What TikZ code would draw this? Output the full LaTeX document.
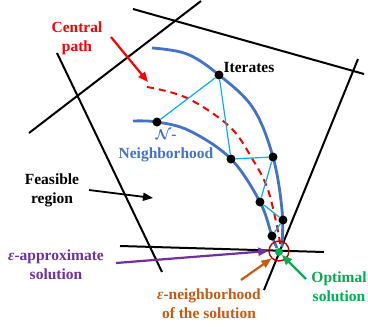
\documentclass[tikz,border=0pt]{standalone}
\usepackage{bm}
\usepackage{fontspec}
\setmainfont{Liberation Serif}
\usetikzlibrary{arrows.meta}
\definecolor{nblue}{HTML}{4472C4}
\definecolor{cyanl}{HTML}{00B0F0}
\definecolor{purp}{HTML}{7030A0}
\definecolor{orng}{HTML}{C55A11}
\definecolor{grn}{HTML}{00B050}
\definecolor{dred}{HTML}{C00000}
\tikzset{
  edge/.style={black, line width=2pt},
  arc/.style={nblue, line width=2.8pt},
  link/.style={cyanl, line width=1.2pt},
  dot/.style={circle, fill=black, inner sep=0pt, minimum width=8pt, minimum height=9pt},
  lbl/.style={align=center, font=\fontsize{15.5}{19}\selectfont\bfseries, inner sep=0pt},
  pointer/.style={line width=2.2pt, -{Triangle[length=10pt,width=8pt]}}
}
\newcommand{\calN}{$\bm{\mathcal{N}}$}
\begin{document}
\begin{tikzpicture}[x=1pt,y=-1pt]
\useasboundingbox (0,0) rectangle (368,327);
% feasible region edges
\coordinate (a1) at (29,133); \coordinate (a2) at (201,1);
\coordinate (b1) at (133,9);  \coordinate (b2) at (364,74);
\coordinate (c1) at (358,59); \coordinate (c2) at (264,290);
\coordinate (d1) at (57,53);  \coordinate (d2) at (162,272);
\coordinate (e1) at (120,246);\coordinate (e2) at (324,252);
\draw[edge] (a1) -- (a2);
\draw[edge] (b1) -- (b2);
\draw[edge] (c1) -- (c2);
\draw[edge] (d1) -- (d2);
\draw[edge] (e1) -- (e2);
% neighborhood arcs
\draw[arc] plot[smooth, tension=0.6] coordinates {(152,48) (187,54) (219,75) (253,108) (273,157) (282,210) (282,247)};
\draw[arc] plot[smooth, tension=0.6] coordinates {(133,121) (157,122) (190,131) (231,159) (260,202) (272,236) (277,248)};
% central path
\draw[red, line width=2pt, dash pattern=on 7pt off 5pt] plot[smooth, tension=0.6] coordinates {(147,87) (187,98) (230,127) (253,160) (267,187) (275,217) (280,243) (279,251)};
% iterates
\node[dot] (p1) at (157,122) {};
\node[dot] (p2) at (219,75) {};
\node[dot] (p3) at (231,159) {};
\node[dot] (p4) at (273,157) {};
\node[dot] (p5) at (260,202) {};
\node[dot] (p6) at (283,220) {};
\node[dot] (p7) at (272,236) {};
\draw[link] (p1) -- (p2) -- (p3) -- (p4) -- (p5) -- (p6) -- (p7);
% optimal solution
\node[circle, draw=dred, line width=1.4pt, minimum size=20pt, inner sep=0pt] (nbh) at (279,251) {};
\node[circle, fill=grn, inner sep=0pt, minimum size=8pt] (opt) at (279,252) {};
% labels
\node[lbl, text=red] (cp) at (77,38) {Central\\path};
\node[lbl] (it) at (249,67) {Iterates};
\node[lbl, text=nblue] (nn) at (166,146) {\calN-\\Neighborhood};
\node[lbl] (fr) at (52,190.5) {Feasible\\region};
\node[lbl, text=purp] (ea) at (56,265) {{\itshape ε}-approximate\\solution};
\node[lbl, text=orng] (en) at (209,304) {{\itshape ε}-neighborhood\\of the solution};
\node[lbl, text=grn] (os) at (339,287) {Optimal\\solution};
% pointers
\coordinate (cps) at (111,37); \coordinate (cpe) at (148,82);
\draw[pointer, red] (cps) -- (cpe);
\coordinate (frs) at (89,190); \coordinate (fre) at (153,198);
\draw[pointer, black, line width=1.8pt] (frs) -- (fre);
\coordinate (eas) at (116,263);
\draw[pointer, purp] (eas) -- (nbh.west);
\coordinate (ens) at (241,280);
\draw[pointer, orng] (ens) -- (nbh.south west);
\coordinate (oss) at (306,279);
\draw[pointer, grn] (oss) -- (opt.south east);
\end{tikzpicture}
\end{document}
